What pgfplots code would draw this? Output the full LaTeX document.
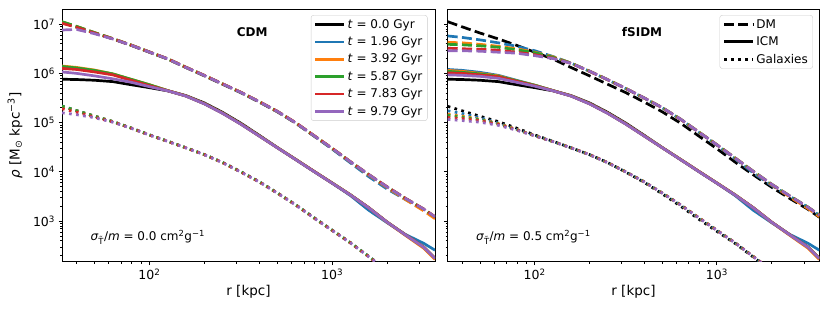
\documentclass[border=0pt]{standalone}
\usepackage{fontspec}
\setmainfont{DejaVu Sans}
\usepackage{pgfplots}
\pgfplotsset{compat=1.18}
\usepackage{pgfplotstable}
\definecolor{cA}{HTML}{1F77B4}
\definecolor{cB}{HTML}{FF7F0E}
\definecolor{cC}{HTML}{2CA02C}
\definecolor{cD}{HTML}{D62728}
\definecolor{cE}{HTML}{9467BD}
\newcommand{\fs}{\fontsize{12bp}{14bp}\selectfont}
\newcommand{\fst}{\fontsize{12.5bp}{14bp}\selectfont}
\newcommand{\fsl}{\fontsize{13.5bp}{15bp}\selectfont}

\pgfplotstableread{
r t0 t1 t2 t3 t4 t5
33.3 1.07e7 1.09e7 1.11e7 1.12e7 1.04e7 7.6e6
40 8.71e6 8.85e6 9.0e6 9.0e6 8.6e6 7.8e6
50 6.61e6 6.7e6 6.75e6 6.75e6 6.6e6 6.4e6
63.1 5.01e6 5.05e6 5.1e6 5.08e6 5.03e6 5.0e6
79.4 3.72e6 3.74e6 3.78e6 3.76e6 3.75e6 3.73e6
100 2.69e6 2.71e6 2.73e6 2.72e6 2.72e6 2.71e6
126 1.95e6 1.97e6 1.98e6 1.97e6 1.98e6 1.97e6
158 1.32e6 1.33e6 1.34e6 1.34e6 1.34e6 1.33e6
200 8.91e5 9.0e5 9.1e5 9.05e5 9.1e5 9.05e5
251 6.03e5 6.1e5 6.15e5 6.12e5 6.15e5 6.12e5
316 4.07e5 4.1e5 4.15e5 4.12e5 4.15e5 4.12e5
398 2.63e5 2.66e5 2.68e5 2.67e5 2.69e5 2.67e5
501 1.66e5 1.68e5 1.69e5 1.69e5 1.70e5 1.69e5
631 9.77e4 9.85e4 9.95e4 9.9e4 1.0e5 9.9e4
794 5.37e4 5.4e4 5.48e4 5.45e4 5.5e4 5.45e4
1000 2.95e4 2.9e4 3.0e4 2.99e4 3.02e4 2.99e4
1259 1.58e4 1.52e4 1.59e4 1.6e4 1.61e4 1.6e4
1585 8.71e3 8.0e3 8.6e3 8.8e3 8.85e3 8.8e3
1995 4.90e3 4.5e3 4.8e3 4.95e3 5.0e3 4.95e3
2512 2.88e3 2.75e3 2.75e3 2.9e3 2.92e3 2.9e3
3162 1.74e3 1.7e3 1.62e3 1.76e3 1.77e3 1.76e3
3650 1.20e3 1.2e3 1.12e3 1.22e3 1.23e3 1.22e3
}\cdmDM

\pgfplotstableread{
r t0 t1 t2 t3 t4 t5
33.3 7.6e5 1.35e6 1.41e6 1.38e6 1.26e6 1.07e6
40 7.5e5 1.26e6 1.32e6 1.29e6 1.20e6 1.0e6
50 7.25e5 1.12e6 1.17e6 1.15e6 1.07e6 8.91e5
63.1 6.8e5 9.55e5 9.77e5 9.77e5 9.33e5 7.76e5
79.4 5.89e5 7.41e5 7.59e5 7.59e5 7.24e5 6.61e5
100 5.13e5 5.75e5 5.89e5 5.89e5 5.62e5 5.37e5
126 4.42e5 4.45e5 4.47e5 4.47e5 4.45e5 4.42e5
158 3.55e5 3.49e5 3.5e5 3.5e5 3.49e5 3.47e5
200 2.51e5 2.42e5 2.43e5 2.43e5 2.42e5 2.40e5
251 1.62e5 1.56e5 1.57e5 1.57e5 1.56e5 1.55e5
316 9.77e4 9.4e4 9.45e4 9.45e4 9.4e4 9.33e4
398 5.56e4 5.4e4 5.42e4 5.42e4 5.4e4 5.37e4
501 3.12e4 3.1e4 3.11e4 3.11e4 3.1e4 3.09e4
631 1.78e4 1.79e4 1.8e4 1.8e4 1.79e4 1.78e4
794 1.02e4 1.03e4 1.03e4 1.03e4 1.03e4 1.02e4
1000 5.89e3 5.9e3 5.95e3 5.95e3 5.92e3 5.89e3
1259 3.39e3 3.3e3 3.42e3 3.42e3 3.4e3 3.39e3
1585 1.86e3 1.66e3 1.87e3 1.87e3 1.87e3 1.86e3
1995 955 933 950 960 960 955
2512 525 537 515 530 530 525
3162 295 355 282 298 298 295
3650 174 257 166 176 176 174
}\cdmICM

\pgfplotstableread{
r t0 t1 t2 t3 t4 t5
33.3 2.14e5 2.18e5 2.12e5 2.16e5 1.91e5 1.58e5
40 1.74e5 1.76e5 1.74e5 1.75e5 1.63e5 1.45e5
50 1.35e5 1.36e5 1.35e5 1.36e5 1.30e5 1.26e5
63.1 1.05e5 1.05e5 1.05e5 1.05e5 1.03e5 1.02e5
79.4 7.76e4 7.8e4 7.75e4 7.8e4 7.76e4 7.7e4
100 5.62e4 5.65e4 5.6e4 5.65e4 5.62e4 5.6e4
126 4.17e4 4.19e4 4.16e4 4.19e4 4.17e4 4.16e4
158 3.09e4 3.1e4 3.08e4 3.1e4 3.09e4 3.08e4
200 2.24e4 2.25e4 2.23e4 2.25e4 2.24e4 2.23e4
251 1.55e4 1.56e4 1.54e4 1.56e4 1.55e4 1.54e4
316 1.0e4 1.01e4 9.95e3 1.01e4 1.0e4 9.95e3
398 6.31e3 6.35e3 6.28e3 6.35e3 6.31e3 6.28e3
501 3.72e3 3.74e3 3.7e3 3.74e3 3.72e3 3.7e3
631 2.14e3 2.15e3 2.13e3 2.15e3 2.14e3 2.13e3
794 1.17e3 1.18e3 1.16e3 1.18e3 1.17e3 1.16e3
1000 650 654 647 654 650 647
1259 362 364 360 364 362 360
1585 190 192 189 192 190 189
1995 100 101 99 101 100 99
}\cdmGal

\pgfplotstableread{
r t0 t1 t2 t3 t4 t5
33.3 1.12e7 5.75e6 4.27e6 3.89e6 3.24e6 2.88e6
40 8.8e6 5.37e6 4.17e6 3.80e6 3.16e6 2.88e6
50 6.61e6 4.79e6 3.89e6 3.63e6 3.09e6 2.82e6
63.1 5.01e6 4.17e6 3.55e6 3.39e6 2.95e6 2.69e6
79.4 3.72e6 3.55e6 3.16e6 3.02e6 2.69e6 2.57e6
100 2.69e6 2.88e6 2.69e6 2.63e6 2.40e6 2.29e6
126 1.95e6 2.2e6 2.17e6 2.13e6 2.04e6 2.00e6
158 1.32e6 1.62e6 1.62e6 1.62e6 1.60e6 1.60e6
200 8.91e5 1.10e6 1.11e6 1.11e6 1.10e6 1.11e6
251 6.03e5 7.41e5 7.48e5 7.48e5 7.45e5 7.48e5
316 4.07e5 4.90e5 4.95e5 4.95e5 4.93e5 4.95e5
398 2.63e5 3.16e5 3.19e5 3.19e5 3.18e5 3.19e5
501 1.66e5 2.0e5 2.02e5 2.02e5 2.01e5 2.02e5
631 9.77e4 1.17e5 1.18e5 1.18e5 1.17e5 1.18e5
794 5.37e4 6.4e4 6.48e4 6.5e4 6.46e4 6.46e4
1000 2.95e4 3.48e4 3.55e4 3.57e4 3.55e4 3.55e4
1259 1.58e4 1.84e4 1.91e4 1.92e4 1.91e4 1.91e4
1585 8.71e3 9.5e3 1.02e4 1.03e4 1.02e4 1.02e4
1995 4.90e3 5.3e3 5.5e3 5.65e3 5.62e3 5.62e3
2512 2.88e3 3.2e3 3.1e3 3.26e3 3.24e3 3.24e3
3162 1.74e3 1.92e3 1.8e3 1.93e3 1.91e3 1.91e3
3650 1.20e3 1.31e3 1.23e3 1.33e3 1.32e3 1.32e3
}\sidmDM

\pgfplotstableread{
r t0 t1 t2 t3 t4 t5
33.3 7.6e5 1.20e6 1.15e6 1.10e6 1.02e6 9.33e5
40 7.5e5 1.15e6 1.10e6 1.05e6 1.00e6 9.12e5
50 7.25e5 1.05e6 1.00e6 9.77e5 9.33e5 8.71e5
63.1 6.8e5 9.12e5 8.91e5 8.71e5 8.51e5 7.94e5
79.4 5.89e5 7.24e5 7.08e5 7.08e5 6.92e5 6.61e5
100 5.13e5 5.75e5 5.75e5 5.75e5 5.62e5 5.5e5
126 4.42e5 4.47e5 4.47e5 4.47e5 4.45e5 4.42e5
158 3.55e5 3.49e5 3.5e5 3.5e5 3.49e5 3.47e5
200 2.51e5 2.42e5 2.43e5 2.43e5 2.42e5 2.40e5
251 1.62e5 1.56e5 1.57e5 1.57e5 1.56e5 1.55e5
316 9.77e4 9.4e4 9.45e4 9.45e4 9.4e4 9.33e4
398 5.56e4 5.4e4 5.42e4 5.42e4 5.4e4 5.37e4
501 3.12e4 3.1e4 3.11e4 3.11e4 3.1e4 3.09e4
631 1.78e4 1.79e4 1.8e4 1.8e4 1.79e4 1.78e4
794 1.02e4 1.03e4 1.03e4 1.03e4 1.03e4 1.02e4
1000 5.89e3 5.9e3 5.95e3 5.95e3 5.92e3 5.89e3
1259 3.39e3 3.3e3 3.42e3 3.42e3 3.4e3 3.39e3
1585 1.86e3 1.66e3 1.87e3 1.87e3 1.87e3 1.86e3
1995 955 933 950 960 960 955
2512 525 537 515 530 530 525
3162 295 355 282 298 298 295
3650 174 257 166 176 176 174
}\sidmICM

\pgfplotstableread{
r t0 t1 t2 t3 t4 t5
33.3 2.14e5 1.74e5 1.48e5 1.41e5 1.27e5 1.16e5
40 1.74e5 1.53e5 1.36e5 1.30e5 1.21e5 1.10e5
50 1.35e5 1.26e5 1.17e5 1.14e5 1.09e5 1.02e5
63.1 1.05e5 9.8e4 9.6e4 9.4e4 9.2e4 8.8e4
79.4 7.76e4 7.3e4 7.3e4 7.2e4 7.15e4 7.0e4
100 5.62e4 5.45e4 5.45e4 5.45e4 5.4e4 5.4e4
126 4.17e4 4.12e4 4.12e4 4.12e4 4.12e4 4.12e4
158 3.09e4 3.08e4 3.09e4 3.08e4 3.09e4 3.08e4
200 2.24e4 2.23e4 2.24e4 2.23e4 2.24e4 2.23e4
251 1.55e4 1.54e4 1.55e4 1.54e4 1.55e4 1.54e4
316 9.9e3 1.0e4 1.0e4 1.0e4 1.0e4 1.0e4
398 6.15e3 6.31e3 6.32e3 6.31e3 6.32e3 6.31e3
501 3.58e3 3.72e3 3.73e3 3.72e3 3.73e3 3.72e3
631 2.02e3 2.14e3 2.15e3 2.14e3 2.15e3 2.14e3
794 1.1e3 1.17e3 1.18e3 1.17e3 1.18e3 1.17e3
1000 620 650 652 650 652 650
1259 352 362 363 362 363 362
1585 186 190 191 190 191 190
1995 99 100 101 100 101 100
}\sidmGal

\pgfplotsset{
  dmsty/.style={forget plot, line width=2.7bp, dash pattern=on 10bp off 4.3bp},
  icmsty/.style={forget plot, line width=2.7bp, solid},
  galsty/.style={forget plot, line width=2.7bp, dash pattern=on 2.7bp off 4.4bp},
}

\newcommand{\trio}[5]{%
  \addplot[dmsty,#5] table[x=r,y=#1] {#2};
  \addplot[icmsty,#5] table[x=r,y=#1] {#3};
  \addplot[galsty,#5] table[x=r,y=#1] {#4};
}

\begin{document}
\begin{tikzpicture}
\path[use as bounding box] (0,0) rectangle (830bp,311bp);

\begin{axis}[
  scale only axis, width=373bp, height=252.4bp, at={(62bp,49.3bp)}, anchor=south west,
  xmode=log, ymode=log,
  xmin=33.3, xmax=3650, ymin=150, ymax=2e7,
  xtick={100,1000}, xticklabels={10\textsuperscript{2},10\textsuperscript{3}},
  ytick={1e3,1e4,1e5,1e6,1e7},
  yticklabels={10\textsuperscript{3},10\textsuperscript{4},10\textsuperscript{5},10\textsuperscript{6},10\textsuperscript{7}},
  minor xtick={40,50,60,70,80,90,200,300,400,500,600,700,800,900,2000,3000},
  minor ytick={200,300,400,500,600,700,800,900,2000,3000,4000,5000,6000,7000,8000,9000,2e4,3e4,4e4,5e4,6e4,7e4,8e4,9e4,2e5,3e5,4e5,5e5,6e5,7e5,8e5,9e5,2e6,3e6,4e6,5e6,6e6,7e6,8e6,9e6},
  tick align=outside, tick pos=left,
  major tick length=3.5bp, minor tick length=2bp,
  major tick style={black, line width=0.8bp},
  minor tick style={black, line width=0.6bp},
  axis line style={line width=0.8bp},
  tick label style={font=\fst},
  label style={font=\fsl},
  xlabel={r [kpc]},
  xlabel style={at={(axis description cs:0.5,-0.118)}, anchor=center},
  ylabel={\textit{ρ} [M\textsubscript{⊙} kpc\textsuperscript{−3}]},
  ylabel style={at={(axis description cs:-0.126,0.5)}, anchor=center},
  legend cell align=left,
  legend image code/.code={\draw[#1] (0bp,0bp) -- (29bp,0bp);},
  legend style={at={(0.98,0.977)}, anchor=north east, draw=black!20, rounded corners=2.5bp,
    fill=white, fill opacity=0.8, text opacity=1, font=\fs, row sep=3bp},
]
\trio{t0}{\cdmDM}{\cdmICM}{\cdmGal}{black}
\trio{t1}{\cdmDM}{\cdmICM}{\cdmGal}{cA}
\trio{t2}{\cdmDM}{\cdmICM}{\cdmGal}{cB}
\trio{t3}{\cdmDM}{\cdmICM}{\cdmGal}{cC}
\trio{t4}{\cdmDM}{\cdmICM}{\cdmGal}{cD}
\trio{t5}{\cdmDM}{\cdmICM}{\cdmGal}{cE}
\addlegendimage{black, line width=2.7bp}\addlegendentry{\textit{t} = 0.0 Gyr}
\addlegendimage{cA, line width=2.7bp}\addlegendentry{\textit{t} = 1.96 Gyr}
\addlegendimage{cB, line width=2.7bp}\addlegendentry{\textit{t} = 3.92 Gyr}
\addlegendimage{cC, line width=2.7bp}\addlegendentry{\textit{t} = 5.87 Gyr}
\addlegendimage{cD, line width=2.7bp}\addlegendentry{\textit{t} = 7.83 Gyr}
\addlegendimage{cE, line width=2.7bp}\addlegendentry{\textit{t} = 9.79 Gyr}
\node[font=\fs\bfseries] at (rel axis cs:0.51,0.91) {CDM};
\node[font=\fs, anchor=west] at (rel axis cs:0.067,0.098) {\textit{σ}\textsubscript{T̃}/\textit{m} = 0.0 cm\textsuperscript{2}g\textsuperscript{−1}};
\end{axis}

\begin{axis}[
  scale only axis, width=371.6bp, height=252.4bp, at={(447.7bp,49.3bp)}, anchor=south west,
  xmode=log, ymode=log,
  xmin=33.3, xmax=3650, ymin=150, ymax=2e7,
  xtick={100,1000}, xticklabels={10\textsuperscript{2},10\textsuperscript{3}},
  ytick={1e3,1e4,1e5,1e6,1e7}, yticklabels={},
  minor xtick={40,50,60,70,80,90,200,300,400,500,600,700,800,900,2000,3000},
  minor ytick={200,300,400,500,600,700,800,900,2000,3000,4000,5000,6000,7000,8000,9000,2e4,3e4,4e4,5e4,6e4,7e4,8e4,9e4,2e5,3e5,4e5,5e5,6e5,7e5,8e5,9e5,2e6,3e6,4e6,5e6,6e6,7e6,8e6,9e6},
  tick align=outside, tick pos=left,
  major tick length=3.5bp, minor tick length=2bp,
  major tick style={black, line width=0.8bp},
  minor tick style={black, line width=0.6bp},
  axis line style={line width=0.8bp},
  tick label style={font=\fst},
  label style={font=\fsl},
  xlabel={r [kpc]},
  xlabel style={at={(axis description cs:0.5,-0.118)}, anchor=center},
  legend cell align=left,
  legend image code/.code={\draw[#1] (0bp,0bp) -- (29bp,0bp);},
  legend style={at={(0.983,0.977)}, anchor=north east, draw=black!20, rounded corners=2.5bp,
    fill=white, fill opacity=0.8, text opacity=1, font=\fs, row sep=3bp},
]
\trio{t0}{\sidmDM}{\sidmICM}{\sidmGal}{black}
\trio{t1}{\sidmDM}{\sidmICM}{\sidmGal}{cA}
\trio{t2}{\sidmDM}{\sidmICM}{\sidmGal}{cB}
\trio{t3}{\sidmDM}{\sidmICM}{\sidmGal}{cC}
\trio{t4}{\sidmDM}{\sidmICM}{\sidmGal}{cD}
\trio{t5}{\sidmDM}{\sidmICM}{\sidmGal}{cE}
\addlegendimage{black, line width=2.7bp, dash pattern=on 10bp off 4.3bp}\addlegendentry{DM}
\addlegendimage{black, line width=2.7bp}\addlegendentry{ICM}
\addlegendimage{black, line width=2.7bp, dash pattern=on 2.7bp off 4.4bp}\addlegendentry{Galaxies}
\node[font=\fs\bfseries] at (rel axis cs:0.523,0.91) {fSIDM};
\node[font=\fs, anchor=west] at (rel axis cs:0.067,0.098) {\textit{σ}\textsubscript{T̃}/\textit{m} = 0.5 cm\textsuperscript{2}g\textsuperscript{−1}};
\end{axis}
\end{tikzpicture}
\end{document}
